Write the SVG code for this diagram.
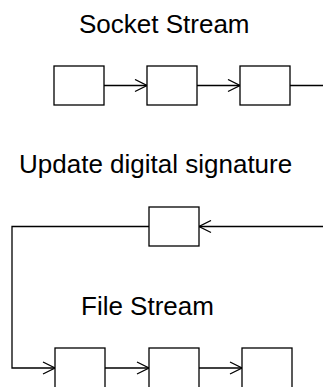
<svg xmlns="http://www.w3.org/2000/svg" width="323" height="387" viewBox="0 0 323 387">
<style>
.box{fill:#fff;stroke:#000;stroke-width:1.3}
.ln{fill:none;stroke:#000;stroke-width:1.3}
.t{font-family:"Liberation Sans",Arial,sans-serif;font-size:26px;fill:#000}
</style>
<defs>
<marker id="ah" viewBox="0 0 14 14" refX="13" refY="7" markerWidth="14" markerHeight="14" markerUnits="userSpaceOnUse" orient="auto">
<path d="M1,1 L13,7 L1,13" fill="none" stroke="#000" stroke-width="1.3"/>
</marker>
</defs>
<rect width="323" height="387" fill="#fff"/>
<text class="t" x="79" y="33">Socket Stream</text>
<text class="t" x="19" y="173">Update digital signature</text>
<text class="t" x="81" y="315">File Stream</text>
<g id="connectors">
<path class="ln" d="M104,85.5 H147" marker-end="url(#ah)"/>
<path class="ln" d="M197,85.5 H240" marker-end="url(#ah)"/>
<path class="ln" d="M290,85.5 H323"/>
<path class="ln" d="M323,226.5 H199" marker-end="url(#ah)"/>
<path class="ln" d="M149,226.5 H12 V368 H55" marker-end="url(#ah)"/>
<path class="ln" d="M105,368 H149" marker-end="url(#ah)"/>
<path class="ln" d="M199,368 H242" marker-end="url(#ah)"/>
</g>
<g id="s1"><rect class="box" x="54" y="66" width="50" height="39"/></g>
<g id="s2"><rect class="box" x="147" y="66" width="50" height="39"/></g>
<g id="s3"><rect class="box" x="240" y="66" width="50" height="39"/></g>
<g id="u1"><rect class="box" x="149" y="207" width="50" height="39"/></g>
<g id="f1"><rect class="box" x="55" y="348" width="50" height="41"/></g>
<g id="f2"><rect class="box" x="149" y="348" width="50" height="41"/></g>
<g id="f3"><rect class="box" x="242" y="348" width="50" height="41"/></g>
</svg>
